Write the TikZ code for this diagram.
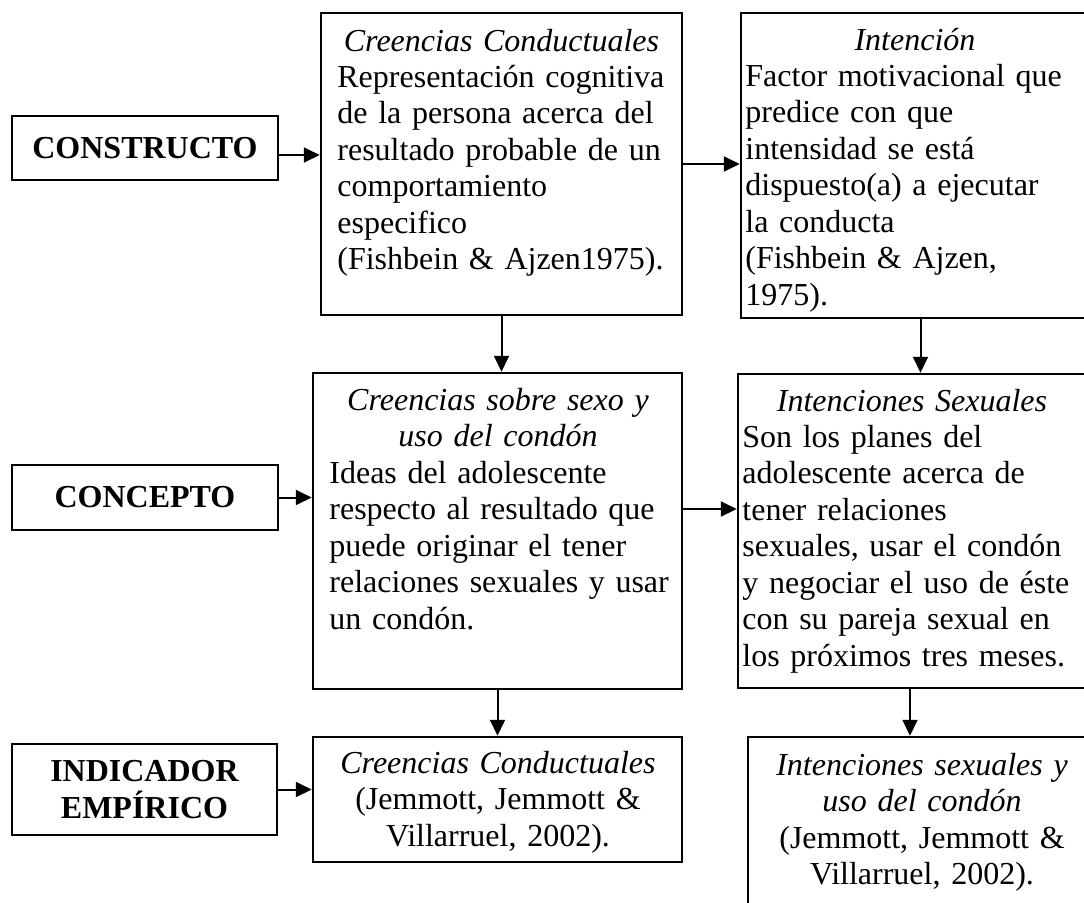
\documentclass[tikz,border=0pt]{standalone}
\usepackage{fontspec}
\setmainfont{Liberation Serif}
\usepackage{tikz}
\usetikzlibrary{arrows.meta,fit}
\tikzset{>={Triangle[length=8pt,width=7.5pt]}}
\newcommand{\txt}{\fontsize{16}{18.25}\selectfont}
\tikzset{
  every node/.style={font=\txt},
  box/.style={draw,line width=1.25pt,inner sep=0pt},
  tag/.style={align=center,inner sep=0pt,font=\txt\bfseries},
  head/.style={anchor=base,text width=170pt,align=center,inner sep=0pt,font=\txt\itshape},
  body/.style={anchor=base west,text width=172pt,align=left,inner sep=0pt},
  link/.style={->,line width=1pt},
}

\begin{document}
\begin{tikzpicture}[x=0.5pt,y=-0.5pt]
\useasboundingbox (0,0) rectangle (1084,902);
\clip (0,0) rectangle (1084,902);
% row labels
\node[box,fit={(12,116) (278,180)}] (constructo) {};
\node[box,fit={(12,465) (278,530)}] (concepto) {};
\node[box,fit={(12,744) (277,835)}] (indicador) {};
\node[tag] (constructo-t) at (constructo.center) {CONSTRUCTO};
\node[tag] (concepto-t) at (concepto.center) {CONCEPTO};
\node[tag] (indicador-t) at (indicador.center) {INDICADOR\\EMPÍRICO};
% boxes
\node[box,fit={(321,13) (682,315)}] (cc) {};
\node[box,fit={(741,13) (1100,318)}] (int) {};
\node[box,fit={(313,373) (682,689)}] (cs) {};
\node[box,fit={(738,374) (1100,688)}] (is) {};
\node[box,fit={(313,737) (682,862)}] (cb) {};
\node[box,fit={(748,737) (1100,960)}] (ib) {};
% texts
\node[head] (cc-t) at (501.5,51) {Creencias Conductuales};
\node[body] (cc-b) at (337,87) {Representación cognitiva\\ de la persona acerca del\\ resultado probable de un\\ comportamiento\\ especifico\\ (Fishbein \& Ajzen1975).};
\node[head] (int-t) at (915,50) {Intención};
\node[body] (int-b) at (745,86) {Factor motivacional que\\ predice con que\\ intensidad se está\\ dispuesto(a) a ejecutar\\ la conducta\\ (Fishbein \& Ajzen,\\ 1975).};
\node[head] (cs-t) at (498,410) {Creencias sobre sexo y\\ uso del condón};
\node[body] (cs-b) at (329,483) {Ideas del adolescente\\ respecto al resultado que\\ puede originar el tener\\ relaciones sexuales y usar\\ un condón.};
\node[head] (is-t) at (912,411) {Intenciones Sexuales};
\node[body] (is-b) at (742,447) {Son los planes del\\ adolescente acerca de\\ tener relaciones\\ sexuales, usar el condón\\ y negociar el uso de éste\\ con su pareja sexual en\\ los próximos tres meses.};
\node[head] (cb-t) at (498,773) {Creencias Conductuales\\ \upshape (Jemmott, Jemmott \&\\ Villarruel, 2002).};
\node[head] (ib-t) at (922,775) {Intenciones sexuales y\\ uso del condón\\ \upshape (Jemmott, Jemmott \&\\ Villarruel, 2002).};
% arrows
\draw[link] ([yshift=-3.5pt]constructo.east) -- ([yshift=-3.5pt]constructo.east -| cc.west);
\draw[link] (cc.east) -- (cc.east -| int.west);
\draw[link] (cc.south) -- (cc.south |- cs.north);
\draw[link] (int.south) -- (int.south |- is.north);
\draw[link] (concepto.east) -- (concepto.east -| cs.west);
\draw[link] ([yshift=11pt]cs.east) -- ([yshift=11pt]cs.east -| is.west);
\draw[link] (cs.south) -- (cs.south |- cb.north);
\draw[link] ([xshift=-4.5pt]is.south) -- ([xshift=-4.5pt]is.south |- ib.north);
\draw[link] (indicador.east) -- (indicador.east -| cb.west);
\end{tikzpicture}
\end{document}
